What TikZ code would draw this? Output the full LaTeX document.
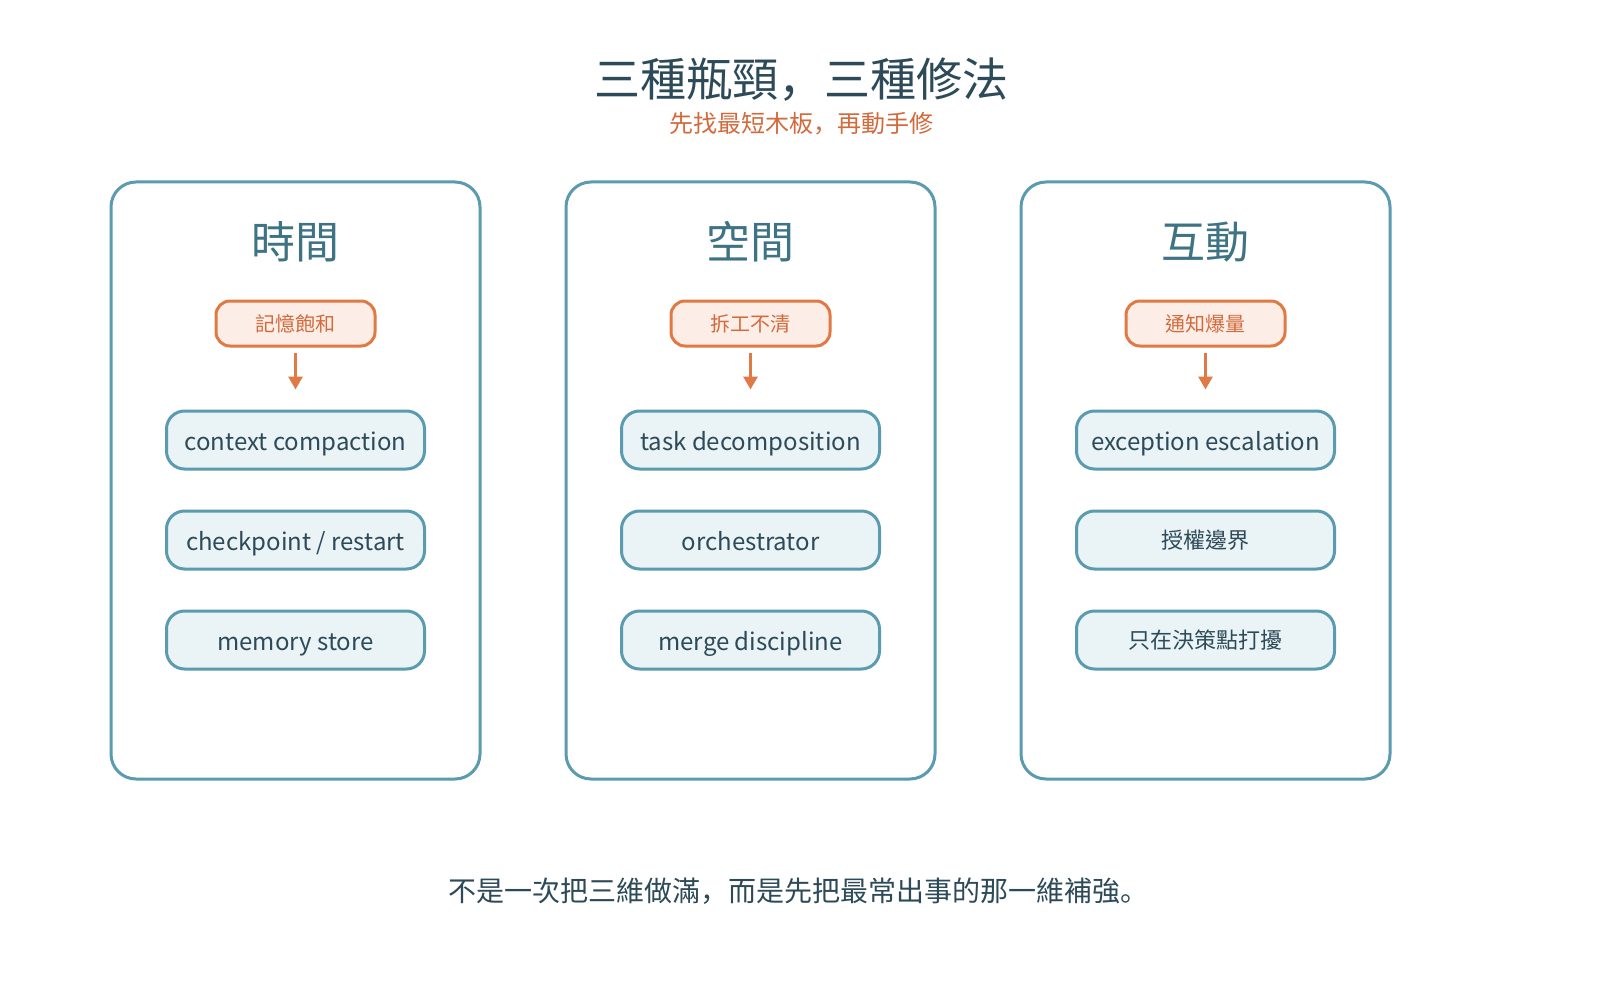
\documentclass[tikz,border=0pt]{standalone}
\usepackage{fontspec}
\setmainfont{Noto Sans CJK TC}
\newfontfamily\jpfont{Noto Sans CJK JP}
\usetikzlibrary{arrows.meta}
\definecolor{pteal}{RGB}{90,155,176}
\definecolor{bfill}{RGB}{234,243,246}
\definecolor{dark}{RGB}{45,74,88}
\definecolor{ptitle}{RGB}{62,115,132}
\definecolor{porange}{RGB}{224,121,68}
\definecolor{ofill}{RGB}{252,238,231}
\definecolor{otext}{RGB}{210,106,60}
\begin{document}
\begin{tikzpicture}[x=1pt,y=-1pt,
  panel/.style={draw=pteal, line width=3pt, rounded corners=25pt, minimum width=369pt, minimum height=597pt, inner sep=0pt},
  ptitle/.style={text=ptitle, font=\fontsize{44}{48}\selectfont, inner sep=0pt},
  pill/.style={draw=porange, fill=ofill, line width=3pt, rounded corners=14pt, minimum width=159pt, minimum height=45pt, inner sep=0pt, text=otext, font=\fontsize{20}{24}\selectfont},
  fixbase/.style={draw=pteal, fill=bfill, line width=3pt, rounded corners=18pt, minimum width=258pt, minimum height=58pt, inner sep=0pt, text=dark},
  fix/.style={fixbase, font=\fontsize{24}{28}\selectfont, text height=20.5pt, text depth=0pt},
  cjkfix/.style={fixbase, font=\fontsize{22}{26}\selectfont},
  arr/.style={draw=porange, line width=3pt, -{Triangle[width=14pt,length=13pt]}, shorten <=5pt, shorten >=20pt}
]
\useasboundingbox[fill=white] (0,0) rectangle (1600,1000);

\node[text=dark, font=\fontsize{46}{50}\selectfont, inner sep=0pt] (title) at (801,80) {三種瓶頸{\jpfont ，}三種修法};
\node[text=otext, font=\fontsize{24}{28}\selectfont, inner sep=0pt] (sub) at (801,124) {先找最短木板{\jpfont ，}再動手修};

% panel 1
\node[panel] (p1) at (295.5,480.5) {};
\node[ptitle] (t1) at (295.5,242) {時間};
\node[pill] (o1) at (295.5,323.5) {記憶飽和};
\node[fix] (a1) at (295.5,440) {context compaction};
\node[fix] (b1) at (295.5,540) {checkpoint / restart};
\node[fix] (c1) at (295.5,640) {memory store};
\draw[arr] (o1) -- (a1);

% panel 2
\node[panel] (p2) at (750.5,480.5) {};
\node[ptitle] (t2) at (750.5,242) {空間};
\node[pill] (o2) at (750.5,323.5) {拆工不清};
\node[fix] (a2) at (750.5,440) {task decomposition};
\node[fix] (b2) at (750.5,540) {orchestrator};
\node[fix] (c2) at (750.5,640) {merge discipline};
\draw[arr] (o2) -- (a2);

% panel 3
\node[panel] (p3) at (1205.5,480.5) {};
\node[ptitle] (t3) at (1205.5,242) {互動};
\node[pill] (o3) at (1205.5,323.5) {通知爆量};
\node[fix] (a3) at (1205.5,440) {exception escalation};
\node[cjkfix] (b3) at (1205.5,540) {授權邊界};
\node[cjkfix] (c3) at (1205.5,640) {只在決策點打擾};
\draw[arr] (o3) -- (a3);

\node[text=dark, font=\fontsize{28}{32}\selectfont, inner sep=0pt] (foot) at (798,891) {不是一次把三維做滿{\jpfont ，}而是先把最常出事的那一維補強{\jpfont 。}};
\end{tikzpicture}
\end{document}
